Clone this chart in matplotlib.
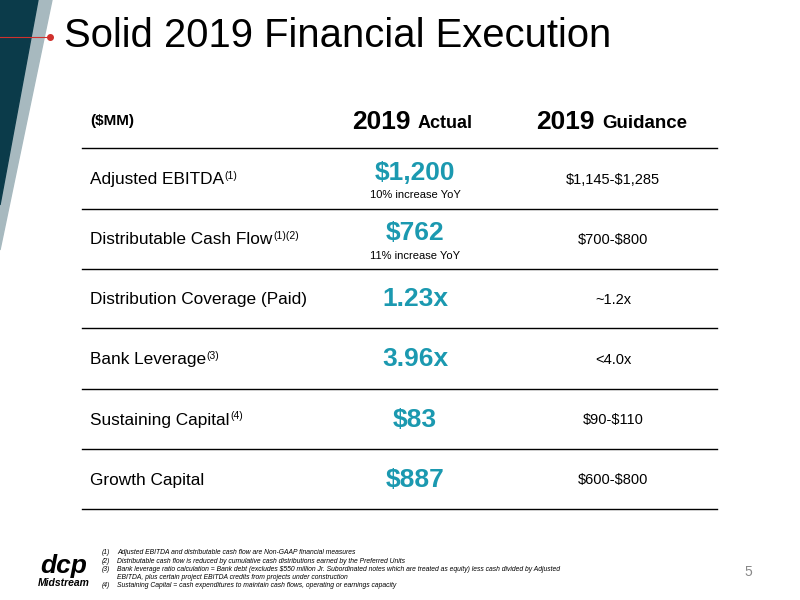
import matplotlib.pyplot as plt
from matplotlib.patches import Polygon

plt.rcParams['font.family'] = ['Liberation Sans', 'DejaVu Sans']
plt.rcParams['text.parse_math'] = False

labels = ["Adjusted EBITDA", "Distributable Cash Flow", "Distribution Coverage (Paid)",
          "Bank Leverage", "Sustaining Capital", "Growth Capital"]
label_sups = ["(1)", "(1)(2)", "", "(3)", "(4)", ""]
actuals = ["$1,200", "$762", "1.23x", "3.96x", "$83", "$887"]
actual_notes = ["10% increase YoY", "11% increase YoY", "", "", "", ""]
guidance = ["$1,145-$1,285", "$700-$800", "~1.2x", "<4.0x", "$90-$110", "$600-$800"]
footnotes = [
    ("(1)", "Adjusted EBITDA and distributable cash flow are Non-GAAP financial measures"),
    ("(2)", "Distributable cash flow is reduced by cumulative cash distributions earned by the Preferred Units"),
    ("(3)", "Bank leverage ratio calculation = Bank debt (excludes $550 million Jr. Subordinated notes which are treated as equity) less cash divided by Adjusted"),
    ("", "EBITDA, plus certain project EBITDA credits from projects under construction"),
    ("(4)", "Sustaining Capital = cash expenditures to maintain cash flows, operating or earnings capacity"),
]

teal = "#1b99b0"
fig = plt.figure(figsize=(8, 6), dpi=100)
ax = fig.add_axes([0, 0, 1, 1])
ax.set_xlim(0, 800)
ax.set_ylim(600, 0)
ax.axis("off")

# corner decoration
ax.add_patch(Polygon([(38, 0), (52, 0), (0, 250), (0, 205)], color="#a7b9bf"))
ax.add_patch(Polygon([(0, 0), (38, 0), (0, 205)], color="#0b3b4a"))
ax.plot([0, 50], [37, 37], color="#d0312d", lw=0.8)
ax.plot(50, 37, "o", color="#d0312d", ms=4)

ax.text(64, 36, "Solid 2019 Financial Execution", fontsize=28.8, va="center", ha="left")

# header
ax.text(90, 121, "($MM)", fontsize=11, fontweight="bold", va="center")
ax.text(352, 122, "2019", fontsize=19, fontweight="bold", va="center")
ax.text(418, 123, "Actual", fontsize=13, fontweight="bold", va="center")
ax.text(536, 122, "2019", fontsize=19, fontweight="bold", va="center")
ax.text(602, 123, "Guidance", fontsize=13.5, fontweight="bold", va="center")

lines_y = [148, 209, 269, 328, 389, 449, 509]
for y in lines_y:
    ax.plot([82, 717], [y, y], color="black", lw=1)

for i in range(len(labels)):
    yc = (lines_y[i] + lines_y[i + 1]) / 2
    t = ax.text(90, yc + 1, labels[i], fontsize=12.4, va="center")
    if label_sups[i]:
        ax.annotate(label_sups[i], xy=(1, 1), xycoords=t, xytext=(0.5, 1),
                    textcoords="offset points", fontsize=7.5, va="top")
    if actual_notes[i]:
        ax.text(415, yc - 6, actuals[i], fontsize=19, fontweight="bold", color=teal,
                ha="center", va="center")
        ax.text(415, yc + 17, actual_notes[i], fontsize=8, ha="center", va="center")
    else:
        ax.text(415, yc + 1, actuals[i], fontsize=19, fontweight="bold", color=teal,
                ha="center", va="center")
    ax.text(613, yc + 1, guidance[i], fontsize=10.5, ha="center", va="center")

# logo
ax.text(64, 566, "dcp", fontsize=19, fontweight="bold", style="italic", ha="center", va="center")
ax.text(64, 583, "Midstream", fontsize=7.5, fontweight="bold", style="italic", ha="center", va="center")

for j, (num, txt) in enumerate(footnotes):
    y = 553 + j * 8.2
    ax.text(102, y, num, fontsize=4.9, style="italic", va="center")
    ax.text(117, y, txt, fontsize=4.9, style="italic", va="center")

ax.text(748, 572, "5", fontsize=10, color="#888888", ha="center", va="center")

fig.savefig("out.png", dpi=100)
